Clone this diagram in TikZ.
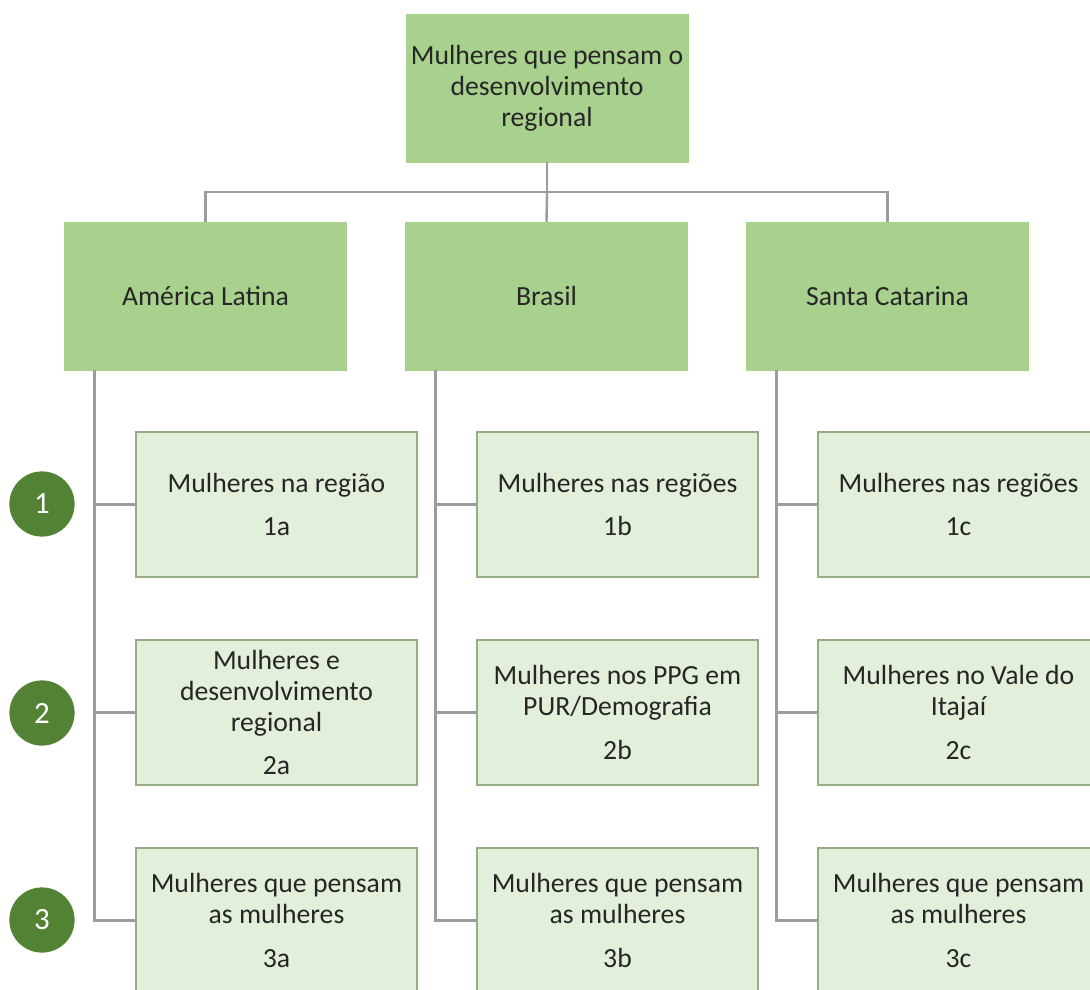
\documentclass[tikz,border=0pt]{standalone}
\usepackage{fontspec}
\setmainfont{Carlito}
\usetikzlibrary{calc}

\definecolor{topgreen}{HTML}{A9D18E}
\definecolor{subgreen}{HTML}{E2EFDA}
\definecolor{subedge}{HTML}{94AD83}
\definecolor{darkgreen}{HTML}{548235}
\definecolor{linegray}{HTML}{9C9C9C}
\definecolor{textgray}{HTML}{262626}

\begin{document}
\begin{tikzpicture}[x=0.025cm,y=-0.025cm,
  font=\fontsize{19.7}{22}\selectfont, text=textgray,
  mainbox/.style={fill=topgreen, draw=topgreen, minimum width=7.05cm,
    minimum height=3.7cm, align=center, inner sep=0pt, outer sep=0pt},
  subbox/.style={fill=subgreen, draw=subedge, line width=1.3pt,
    minimum width=7.025cm, minimum height=3.625cm, align=center,
    inner sep=0pt, outer sep=0pt},
  num/.style={circle, fill=darkgreen, text=white, minimum size=1.63cm,
    inner sep=0pt, font=\fontsize{22}{24}\selectfont},
  link/.style={draw=linegray, line width=1.7pt}]

  % frame
  \useasboundingbox (0,0) rectangle (1090,990);
  \clip (0,0) rectangle (1090,990);

  % top and first level
  \node[mainbox] (top) at (547,88) {Mulheres que pensam o\\desenvolvimento\\regional};
  \node[mainbox] (la) at (205.5,296) {América Latina};
  \node[mainbox] (lb) at (546.5,296) {Brasil};
  \node[mainbox] (lc) at (887.5,296) {Santa Catarina};

  % second level
  \node[subbox] (a1) at (276.5,504.5) {Mulheres na região\\[9pt]1a};
  \node[subbox] (a2) at (276.5,712.5) {Mulheres e\\desenvolvimento\\regional\\[9pt]2a};
  \node[subbox] (a3) at (276.5,920.5) {Mulheres que pensam\\as mulheres\\[9pt]3a};
  \node[subbox] (b1) at (617.5,504.5) {Mulheres nas regiões\\[9pt]1b};
  \node[subbox] (b2) at (617.5,712.5) {Mulheres nos PPG em\\PUR/Demografia\\[9pt]2b};
  \node[subbox] (b3) at (617.5,920.5) {Mulheres que pensam\\as mulheres\\[9pt]3b};
  \node[subbox] (c1) at (958.5,504.5) {Mulheres nas regiões\\[9pt]1c};
  \node[subbox] (c2) at (958.5,712.5) {Mulheres no Vale do\\Itajaí\\[9pt]2c};
  \node[subbox] (c3) at (958.5,920.5) {Mulheres que pensam\\as mulheres\\[9pt]3c};

  % numbers
  \foreach \n/\y in {1/504,2/713,3/920}
    \node[num] (n\n) at (42,\y) {\n};

  % connectors
  \coordinate (bus) at (547,192);
  \draw[link] (top.south) -- (bus);
  \draw[link] (la.north) |- (bus) -| (lc.north);
  \draw[link] (bus) -- (lb.north);
  \foreach \c in {a,b,c} {
    \coordinate (s\c) at ($(l\c.south west)+(30,0)$);
    \draw[link] (s\c) |- (\c3.west);
    \draw[link] (s\c |- \c1.west) -- (\c1.west);
    \draw[link] (s\c |- \c2.west) -- (\c2.west);
  }
\end{tikzpicture}
\end{document}
